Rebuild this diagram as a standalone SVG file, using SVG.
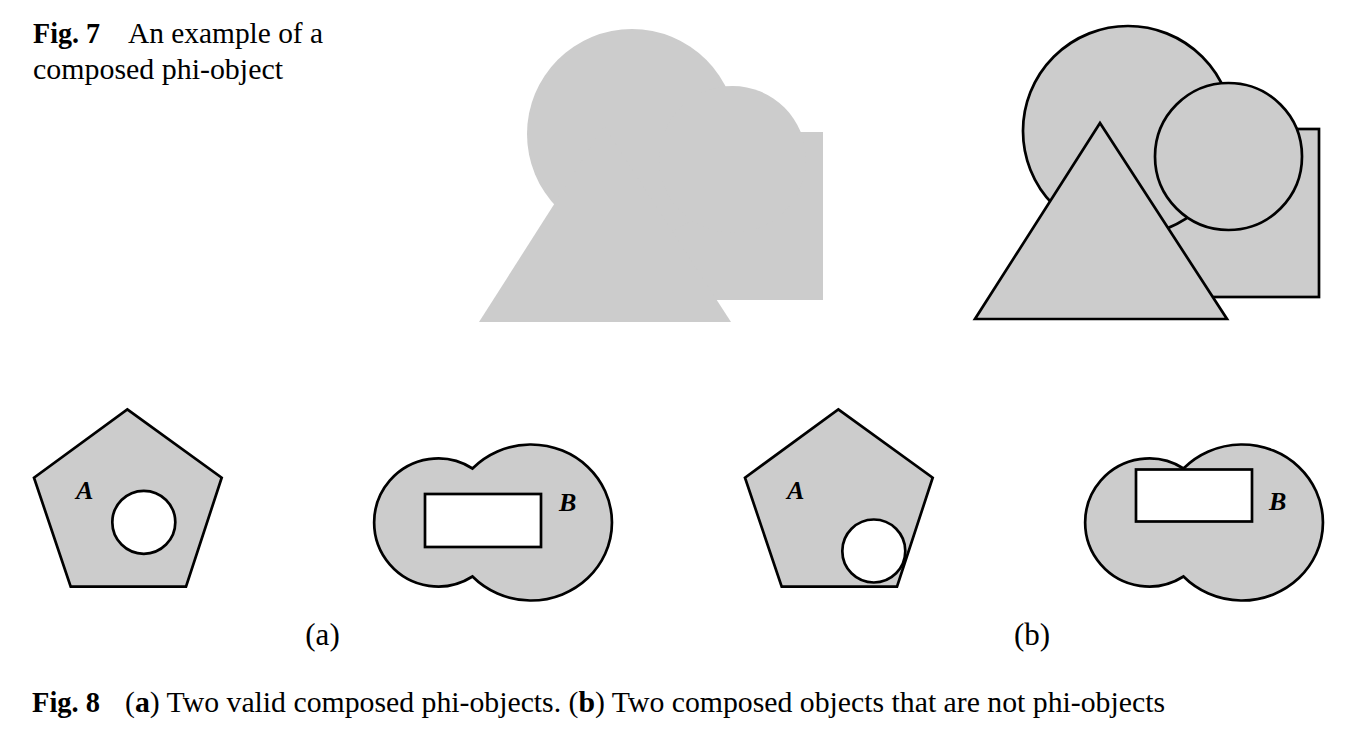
<svg xmlns="http://www.w3.org/2000/svg" width="1358" height="744" viewBox="0 0 1358 744">
<style>
.cap{font-family:"Liberation Serif","Times New Roman",serif;fill:#000}
.b{font-weight:bold}
.lbl{font-family:"Liberation Serif","Times New Roman",serif;font-weight:bold;font-style:italic;font-size:26px;fill:#000}
.sh{fill:#cccccc;stroke:#000;stroke-width:2.7;stroke-linejoin:miter}
.hole{fill:#fff;stroke:#000;stroke-width:2.7}
.u{fill:#cccccc;stroke:none}
</style>
<rect width="1358" height="744" fill="#fff"/>
<g id="fig7-caption">
<text class="cap b" font-size="29" x="33" y="43" textLength="67" lengthAdjust="spacingAndGlyphs">Fig. 7</text>
<text class="cap" font-size="29" x="128" y="43" textLength="195" lengthAdjust="spacingAndGlyphs">An example of a</text>
<text class="cap" font-size="29" x="33" y="79" textLength="250" lengthAdjust="spacingAndGlyphs">composed phi-object</text>
</g>
<g id="fig7-union" transform="translate(-496,3)">
<rect class="u" x="1151" y="129" width="168" height="168"/>
<circle class="u" cx="1128" cy="131" r="105"/>
<circle class="u" cx="1228.5" cy="156.5" r="73.5"/>
<polygon class="u" points="1100,123 975,319 1227,319"/>
</g>
<g id="fig7-parts">
<rect class="sh" x="1151" y="129" width="168" height="168"/>
<circle class="sh" cx="1128" cy="131" r="105"/>
<circle class="sh" cx="1228.5" cy="156.5" r="73.5"/>
<polygon class="sh" points="1100,123 975,319 1227,319"/>
</g>
<g id="fig8a-A">
<polygon class="sh" points="127.3,409.3 221.7,477.7 186,586.7 70.7,586.7 34,477.7"/>
<circle class="hole" cx="143.8" cy="522.3" r="31.5"/>
<text class="lbl" x="76" y="499">A</text>
</g>
<g id="fig8a-B">
<path class="sh" d="M472.5,468.5 A81,78 0 1 1 472.5,576.5 A64,64 0 1 1 472.5,468.5 Z"/>
<rect class="hole" x="425" y="494" width="116" height="53"/>
<text class="lbl" x="559" y="511">B</text>
</g>
<g id="fig8b-A">
<polygon class="sh" points="838.3,409.3 932.7,477.7 897,586.7 781.7,586.7 745,477.7"/>
<circle class="hole" cx="873.8" cy="551" r="31.5"/>
<text class="lbl" x="787" y="499">A</text>
</g>
<g id="fig8b-B">
<path class="sh" d="M1183.5,468.5 A81,78 0 1 1 1183.5,576.5 A64,64 0 1 1 1183.5,468.5 Z"/>
<rect class="hole" x="1136" y="469.5" width="116" height="52"/>
<text class="lbl" x="1269" y="510">B</text>
</g>
<g id="connectors"></g>
<g id="sublabels">
<text class="cap" font-size="31" x="322.5" y="645" text-anchor="middle">(a)</text>
<text class="cap" font-size="31" x="1032" y="645" text-anchor="middle">(b)</text>
</g>
<g id="fig8-caption">
<text class="cap b" font-size="29" x="32" y="712" textLength="68" lengthAdjust="spacingAndGlyphs">Fig. 8</text>
<text class="cap" font-size="29" x="125" y="712" textLength="1040" lengthAdjust="spacingAndGlyphs">(<tspan class="b">a</tspan>) Two valid composed phi-objects. (<tspan class="b">b</tspan>) Two composed objects that are not phi-objects</text>
</g>
</svg>
